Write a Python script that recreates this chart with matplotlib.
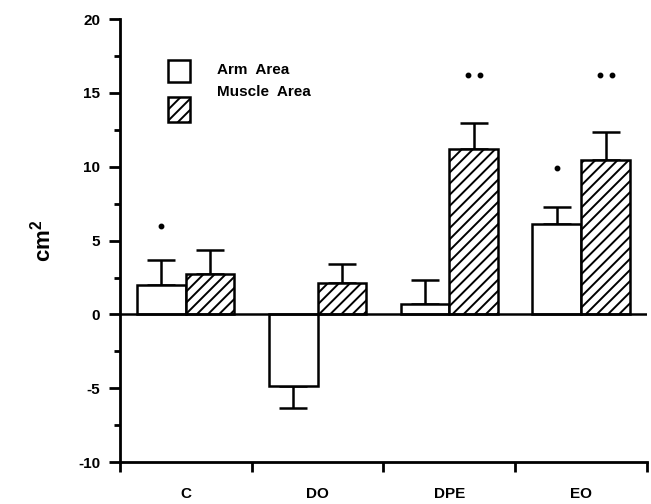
import numpy as np
import matplotlib.pyplot as plt
from matplotlib.patches import Rectangle

plt.rcParams['font.family'] = ['Liberation Sans', 'DejaVu Sans']
plt.rcParams['font.weight'] = 'bold'
plt.rcParams['mathtext.fontset'] = 'custom'
plt.rcParams['mathtext.rm'] = 'Liberation Sans:bold'
plt.rcParams['hatch.linewidth'] = 1.4
plt.rcParams['axes.unicode_minus'] = False

# data
groups = ['C', 'DO', 'DPE', 'EO']
arm_area = [2.0, -4.85, 0.7, 6.15]
arm_err = [1.7, 1.45, 1.65, 1.1]
muscle_area = [2.75, 2.15, 11.2, 10.45]
muscle_err = [1.65, 1.3, 1.75, 1.9]
# significance markers (number of dots, height)
arm_sig = [1, 0, 0, 1]
arm_sig_y = [6.0, 0, 0, 9.9]
muscle_sig = [0, 0, 2, 2]
muscle_sig_y = [0, 0, 16.2, 16.2]

fig = plt.figure(figsize=(6.51, 5.04), dpi=100)
ax = fig.add_axes([0.184, 0.083, 0.810, 0.879])

x = np.arange(len(groups)) + 0.5
w = 0.37
lw = 1.8

ax.bar(x - w / 2, arm_area, w, color='white', edgecolor='black', linewidth=lw, zorder=3)
ax.bar(x + w / 2, muscle_area, w, color='white', edgecolor='black', linewidth=lw,
       hatch='///', zorder=3)

# error bars only on the outer side of each bar
def one_sided(vals, errs):
    lo = [e if v < 0 else 0 for v, e in zip(vals, errs)]
    hi = [e if v >= 0 else 0 for v, e in zip(vals, errs)]
    return [lo, hi]

ax.errorbar(x - w / 2, arm_area, yerr=one_sided(arm_area, arm_err), fmt='none',
            ecolor='black', elinewidth=lw, capsize=10, capthick=lw, zorder=2)
ax.errorbar(x + w / 2, muscle_area, yerr=one_sided(muscle_area, muscle_err), fmt='none',
            ecolor='black', elinewidth=lw, capsize=10, capthick=lw, zorder=2)

# significance dots
for xs, n, ys in [(x - w / 2, arm_sig, arm_sig_y), (x + w / 2, muscle_sig, muscle_sig_y)]:
    for xi, ni, yi in zip(xs, n, ys):
        if ni == 0:
            continue
        offs = [0.0] if ni == 1 else [-0.045, 0.045]
        ax.plot([xi + o for o in offs], [yi] * ni, 'o', color='black', ms=3.2)

ax.axhline(0, color='black', lw=lw, zorder=4)

ax.set_xlim(0, 4)
ax.set_ylim(-10, 20)

for s in ['top', 'right']:
    ax.spines[s].set_visible(False)
for s in ['left', 'bottom']:
    ax.spines[s].set_linewidth(2.0)

ax.set_yticks([-10, -5, 0, 5, 10, 15, 20])
ax.set_yticks(np.arange(-7.5, 20, 5), minor=True)
ax.tick_params(axis='y', which='major', length=8, width=2.0, labelsize=11, pad=6)
ax.tick_params(axis='y', which='minor', length=4, width=2.0)

ax.set_xticks([0, 1, 2, 3, 4])
ax.set_xticklabels([])
ax.set_xticks(x, minor=True)
ax.set_xticklabels(groups, minor=True)
ax.tick_params(axis='x', which='major', length=7, width=2.0)
ax.tick_params(axis='x', which='minor', length=0, labelsize=11, pad=18)

ax.set_ylabel(r'$\mathrm{cm}^{2}$', fontsize=16, labelpad=16)

# legend drawn by hand
ax.add_patch(Rectangle((0.091, 0.858), 0.042, 0.05, transform=ax.transAxes,
                       facecolor='white', edgecolor='black', lw=lw, clip_on=False))
ax.add_patch(Rectangle((0.091, 0.768), 0.042, 0.056, transform=ax.transAxes,
                       facecolor='white', edgecolor='black', lw=lw, hatch='///',
                       clip_on=False))
ax.text(0.184, 0.885, 'Arm  Area', transform=ax.transAxes, fontsize=11, va='center')
ax.text(0.184, 0.835, 'Muscle  Area', transform=ax.transAxes, fontsize=11, va='center')

fig.savefig('out.png', dpi=100)
